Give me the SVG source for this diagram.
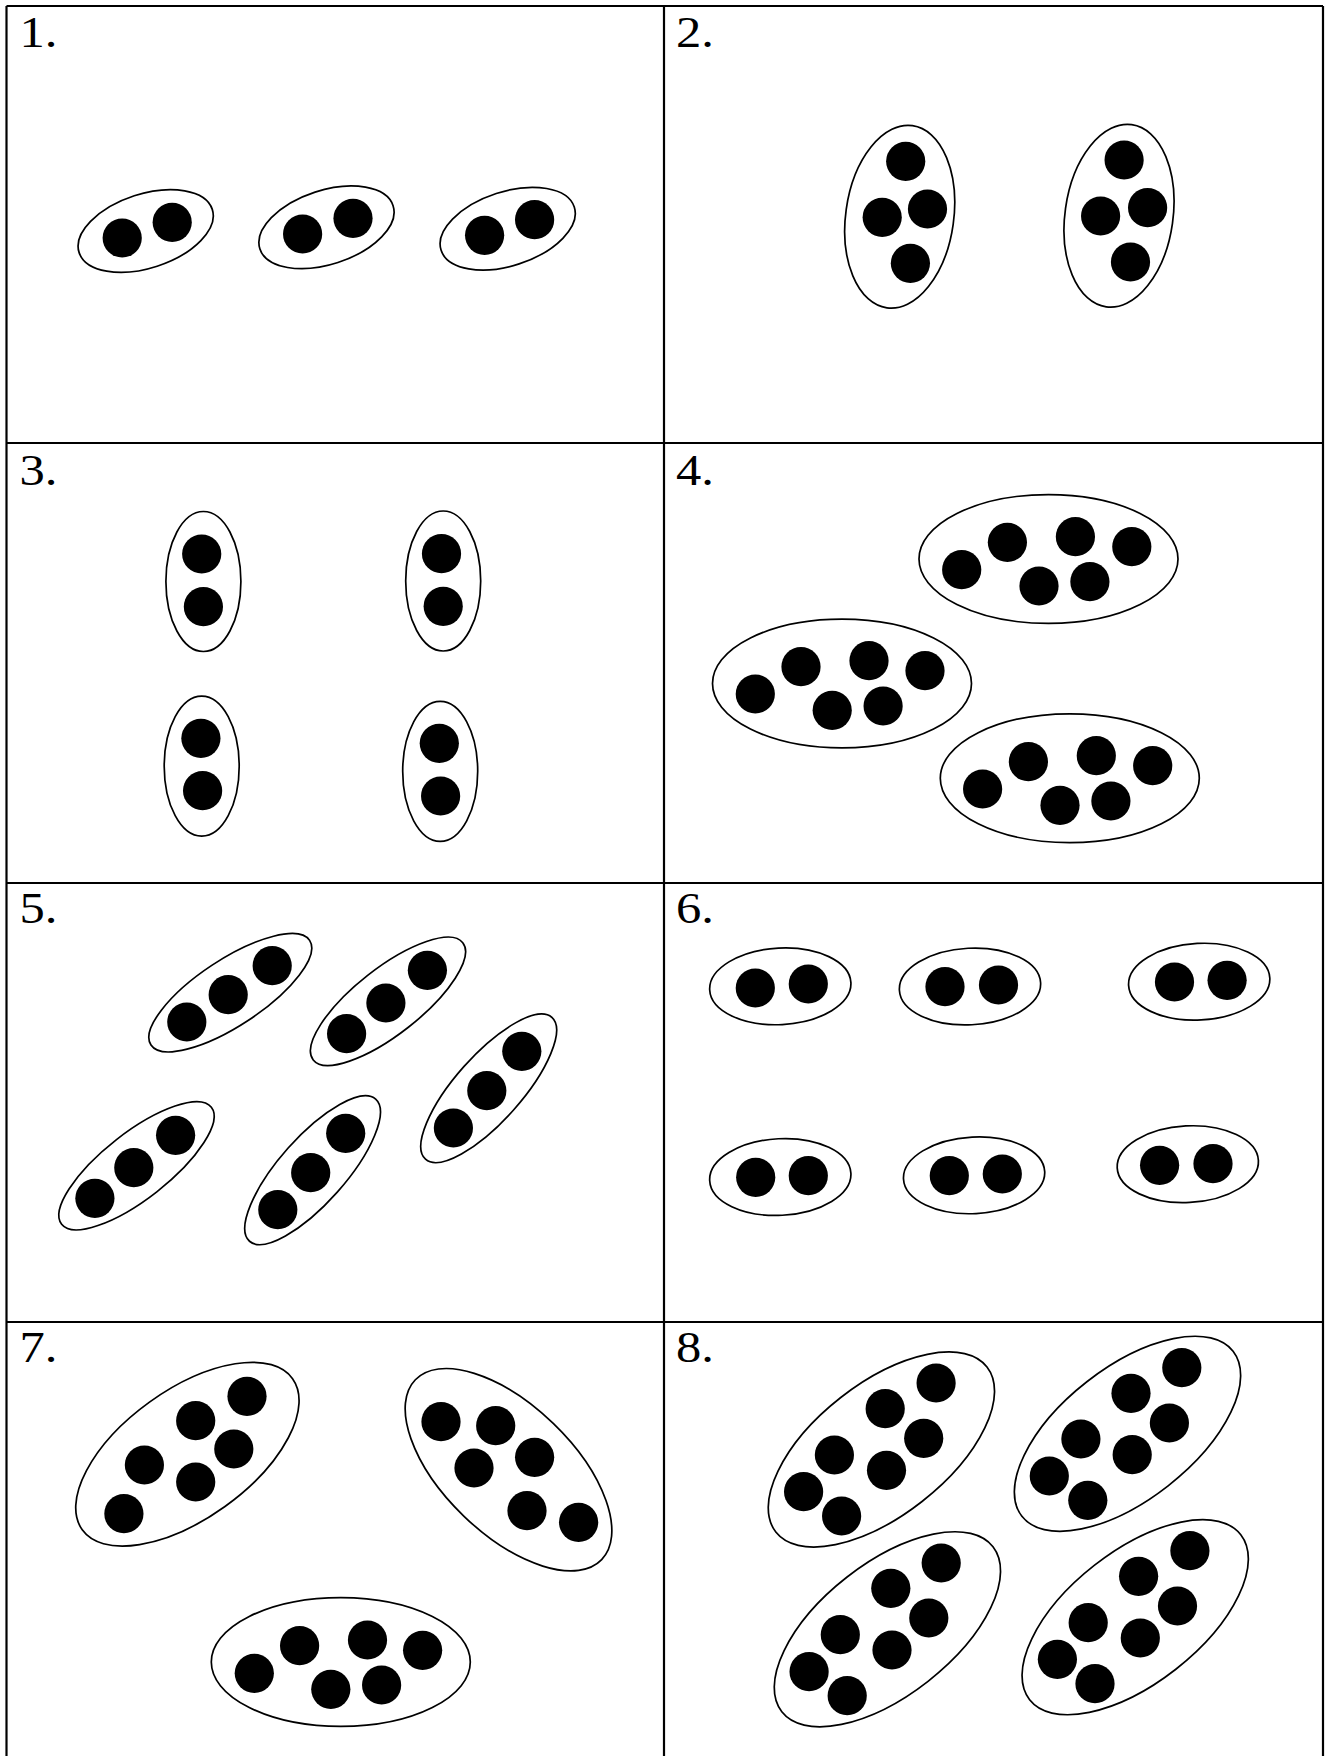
<svg xmlns="http://www.w3.org/2000/svg" width="1325" height="1756" viewBox="0 0 1325 1756">
<style>
.ring{fill:#fff;stroke:#000;stroke-width:1.7}
.dot{fill:#000}
.grid{stroke:#000;stroke-width:2.2;fill:none}
.lbl{font-family:"Liberation Serif","Times New Roman",serif;font-size:44px;fill:#000}
</style>
<defs>
<ellipse id="e1" class="ring" rx="70" ry="37"/>
<ellipse id="e2" class="ring" rx="54" ry="92"/>
<ellipse id="e3" class="ring" rx="37.5" ry="70"/>
<ellipse id="e4" class="ring" rx="129.5" ry="64.4"/>
<ellipse id="e5" class="ring" rx="95" ry="33"/>
<ellipse id="e6" class="ring" rx="70.7" ry="38.3"/>
<ellipse id="e8" class="ring" rx="134" ry="66"/>
</defs>
<rect width="1325" height="1756" fill="#fff"/>
<g id="grid" class="grid">
<line x1="6.5" y1="6" x2="6.5" y2="1756"/>
<line x1="664" y1="6" x2="664" y2="1756"/>
<line x1="1323" y1="6" x2="1323" y2="1756"/>
<line x1="6.5" y1="6" x2="1323" y2="6"/>
<line x1="6.5" y1="443" x2="1323" y2="443"/>
<line x1="6.5" y1="883" x2="1323" y2="883"/>
<line x1="6.5" y1="1322" x2="1323" y2="1322"/>
</g>
<g id="labels" class="lbl">
<text transform="translate(19.4,46.5) scale(1.15,1)">1.</text>
<text transform="translate(676,46.5) scale(1.15,1)">2.</text>
<text transform="translate(19.4,484.5) scale(1.15,1)">3.</text>
<text transform="translate(676,484.5) scale(1.15,1)">4.</text>
<text transform="translate(19.4,923) scale(1.15,1)">5.</text>
<text transform="translate(676,923) scale(1.15,1)">6.</text>
<text transform="translate(19.4,1362) scale(1.15,1)">7.</text>
<text transform="translate(676,1362) scale(1.15,1)">8.</text>
</g>
<g id="cell1">
<g id="c1g1"><use href="#e1" transform="translate(145.7,231) rotate(-18)"/><circle class="dot" cx="122.2" cy="238" r="19.6"/><circle class="dot" cx="172.2" cy="222.3" r="19.6"/></g>
<g id="c1g2"><use href="#e1" transform="translate(326.5,227.3) rotate(-18)"/><circle class="dot" cx="302.6" cy="234" r="19.6"/><circle class="dot" cx="353" cy="218.3" r="19.6"/></g>
<g id="c1g3"><use href="#e1" transform="translate(507.7,228.7) rotate(-18)"/><circle class="dot" cx="484.6" cy="235.3" r="19.6"/><circle class="dot" cx="534.6" cy="219.7" r="19.6"/></g>
</g>
<g id="cell2">
<g id="c2g1"><use href="#e2" transform="translate(899.7,216.8) rotate(8)"/><circle class="dot" cx="905.7" cy="161.3" r="19.6"/><circle class="dot" cx="882.2" cy="217.3" r="19.6"/><circle class="dot" cx="927.5" cy="209" r="19.6"/><circle class="dot" cx="910.4" cy="263.3" r="19.6"/></g>
<g id="c2g2"><use href="#e2" transform="translate(1119,215.8) rotate(8)"/><circle class="dot" cx="1124.1" cy="160" r="19.6"/><circle class="dot" cx="1100.6" cy="216" r="19.6"/><circle class="dot" cx="1147.6" cy="207.7" r="19.6"/><circle class="dot" cx="1130.5" cy="262" r="19.6"/></g>
</g>
<g id="cell3">
<g id="c3g1"><use href="#e3" transform="translate(203.4,581.5)"/><circle class="dot" cx="201.7" cy="554" r="19.6"/><circle class="dot" cx="203.4" cy="606.7" r="19.6"/></g>
<g id="c3g2"><use href="#e3" transform="translate(443.2,581)"/><circle class="dot" cx="441.5" cy="553.7" r="19.6"/><circle class="dot" cx="443.2" cy="606.3" r="19.6"/></g>
<g id="c3g3"><use href="#e3" transform="translate(201.7,766.2)"/><circle class="dot" cx="200.9" cy="738.3" r="19.6"/><circle class="dot" cx="202.6" cy="790.7" r="19.6"/></g>
<g id="c3g4"><use href="#e3" transform="translate(440.2,771.3)"/><circle class="dot" cx="439.3" cy="743.3" r="19.6"/><circle class="dot" cx="440.6" cy="796" r="19.6"/></g>
</g>
<g id="cell4">
<g id="c4g1"><use href="#e4" transform="translate(1048.5,559)"/><circle class="dot" cx="961.7" cy="569.7" r="19.6"/><circle class="dot" cx="1007.4" cy="542.3" r="19.6"/><circle class="dot" cx="1075.4" cy="536.7" r="19.6"/><circle class="dot" cx="1131.8" cy="546.7" r="19.6"/><circle class="dot" cx="1039" cy="586" r="19.6"/><circle class="dot" cx="1089.9" cy="581.7" r="19.6"/></g>
<g id="c4g2"><use href="#e4" transform="translate(842,683.5)"/><circle class="dot" cx="755.3" cy="694" r="19.6"/><circle class="dot" cx="801" cy="666.7" r="19.6"/><circle class="dot" cx="869" cy="660.7" r="19.6"/><circle class="dot" cx="925" cy="670.7" r="19.6"/><circle class="dot" cx="832.2" cy="710.3" r="19.6"/><circle class="dot" cx="883.1" cy="706" r="19.6"/></g>
<g id="c4g3"><use href="#e4" transform="translate(1069.8,778.2)"/><circle class="dot" cx="982.6" cy="789" r="19.6"/><circle class="dot" cx="1028.4" cy="761.7" r="19.6"/><circle class="dot" cx="1096.3" cy="755.7" r="19.6"/><circle class="dot" cx="1152.7" cy="765.7" r="19.6"/><circle class="dot" cx="1060" cy="805.3" r="19.6"/><circle class="dot" cx="1110.9" cy="801" r="19.6"/></g>
</g>
<g id="cell5">
<g id="c5g1"><use href="#e5" transform="translate(230.3,992.7) rotate(-33.4)"/><circle class="dot" cx="186.8" cy="1022" r="19.6"/><circle class="dot" cx="228.2" cy="994.7" r="19.6"/><circle class="dot" cx="272.2" cy="965.7" r="19.6"/></g>
<g id="c5g2"><use href="#e5" transform="translate(388,1001.3) rotate(-38.1)"/><circle class="dot" cx="346.6" cy="1033.7" r="19.6"/><circle class="dot" cx="385.9" cy="1003" r="19.6"/><circle class="dot" cx="427.4" cy="970.3" r="19.6"/></g>
<g id="c5g3"><use href="#e5" transform="translate(488.7,1088.3) rotate(-48.3)"/><circle class="dot" cx="453.4" cy="1128" r="19.6"/><circle class="dot" cx="486.8" cy="1090.7" r="19.6"/><circle class="dot" cx="521.8" cy="1051.3" r="19.6"/></g>
<g id="c5g4"><use href="#e5" transform="translate(136.5,1165.8) rotate(-38)"/><circle class="dot" cx="94.9" cy="1198.3" r="19.6"/><circle class="dot" cx="133.8" cy="1167.7" r="19.6"/><circle class="dot" cx="175.6" cy="1135.3" r="19.6"/></g>
<g id="c5g5"><use href="#e5" transform="translate(312.6,1170.2) rotate(-48.4)"/><circle class="dot" cx="277.8" cy="1209.7" r="19.6"/><circle class="dot" cx="310.7" cy="1172.7" r="19.6"/><circle class="dot" cx="345.7" cy="1133.3" r="19.6"/></g>
</g>
<g id="cell6">
<g id="c6g1"><use href="#e6" transform="translate(780.3,986.3) rotate(-3)"/><circle class="dot" cx="755.3" cy="988" r="19.6"/><circle class="dot" cx="808.3" cy="984" r="19.6"/></g>
<g id="c6g2"><use href="#e6" transform="translate(970,986.5) rotate(-3)"/><circle class="dot" cx="945" cy="986.7" r="19.6"/><circle class="dot" cx="998.5" cy="985" r="19.6"/></g>
<g id="c6g3"><use href="#e6" transform="translate(1199.2,981.7) rotate(-3)"/><circle class="dot" cx="1174.5" cy="982" r="19.6"/><circle class="dot" cx="1227.1" cy="980.3" r="19.6"/></g>
<g id="c6g4"><use href="#e6" transform="translate(780.3,1177) rotate(-3)"/><circle class="dot" cx="755.7" cy="1177.3" r="19.6"/><circle class="dot" cx="808.3" cy="1175.7" r="19.6"/></g>
<g id="c6g5"><use href="#e6" transform="translate(974.1,1175.3) rotate(-3)"/><circle class="dot" cx="949.3" cy="1175.7" r="19.6"/><circle class="dot" cx="1002.3" cy="1174" r="19.6"/></g>
<g id="c6g6"><use href="#e6" transform="translate(1187.8,1164.2) rotate(-3)"/><circle class="dot" cx="1159.6" cy="1165.3" r="19.6"/><circle class="dot" cx="1213" cy="1163.7" r="19.6"/></g>
</g>
<g id="cell7">
<g id="c7g1"><use href="#e4" transform="translate(187.4,1454.2) rotate(-35.7)"/><circle class="dot" cx="123.9" cy="1513.7" r="19.6"/><circle class="dot" cx="144.4" cy="1465" r="19.6"/><circle class="dot" cx="195.7" cy="1420.7" r="19.6"/><circle class="dot" cx="247" cy="1396.3" r="19.6"/><circle class="dot" cx="233.8" cy="1449" r="19.6"/><circle class="dot" cx="195.7" cy="1482" r="19.6"/></g>
<g id="c7g2"><use href="#e4" transform="translate(508.5,1469.7) rotate(44)"/><circle class="dot" cx="441" cy="1421.7" r="19.6"/><circle class="dot" cx="495.7" cy="1425.7" r="19.6"/><circle class="dot" cx="474" cy="1468" r="19.6"/><circle class="dot" cx="534.6" cy="1457.3" r="19.6"/><circle class="dot" cx="527" cy="1510.7" r="19.6"/><circle class="dot" cx="578.6" cy="1522.3" r="19.6"/></g>
<g id="c7g3"><use href="#e4" transform="translate(340.8,1662)"/><circle class="dot" cx="254.3" cy="1673.3" r="19.6"/><circle class="dot" cx="299.6" cy="1645.7" r="19.6"/><circle class="dot" cx="367.5" cy="1640" r="19.6"/><circle class="dot" cx="422.6" cy="1650.3" r="19.6"/><circle class="dot" cx="330.8" cy="1689.3" r="19.6"/><circle class="dot" cx="381.6" cy="1685" r="19.6"/></g>
</g>
<g id="cell8">
<g id="c8g1"><use href="#e8" transform="translate(881.4,1449.5) rotate(-38)"/><circle class="dot" cx="936.1" cy="1383" r="19.6"/><circle class="dot" cx="885.2" cy="1408.7" r="19.6"/><circle class="dot" cx="923.7" cy="1438.3" r="19.6"/><circle class="dot" cx="834.4" cy="1455" r="19.6"/><circle class="dot" cx="886.5" cy="1470.3" r="19.6"/><circle class="dot" cx="803.6" cy="1491.7" r="19.6"/><circle class="dot" cx="841.6" cy="1516" r="19.6"/></g>
<g id="c8g2"><use href="#e8" transform="translate(1127.5,1433.8) rotate(-38)"/><circle class="dot" cx="1181.8" cy="1367.7" r="19.6"/><circle class="dot" cx="1131" cy="1393.3" r="19.6"/><circle class="dot" cx="1169.4" cy="1423" r="19.6"/><circle class="dot" cx="1080.9" cy="1439" r="19.6"/><circle class="dot" cx="1132.2" cy="1454.7" r="19.6"/><circle class="dot" cx="1049.3" cy="1476" r="19.6"/><circle class="dot" cx="1087.8" cy="1500.3" r="19.6"/></g>
<g id="c8g3"><use href="#e8" transform="translate(887.4,1629.3) rotate(-38)"/><circle class="dot" cx="941.2" cy="1563" r="19.6"/><circle class="dot" cx="890.8" cy="1588.3" r="19.6"/><circle class="dot" cx="928.8" cy="1618" r="19.6"/><circle class="dot" cx="840.3" cy="1634.7" r="19.6"/><circle class="dot" cx="892" cy="1650" r="19.6"/><circle class="dot" cx="809.1" cy="1671.7" r="19.6"/><circle class="dot" cx="847.2" cy="1695.7" r="19.6"/></g>
<g id="c8g4"><use href="#e8" transform="translate(1135.2,1617.2) rotate(-38)"/><circle class="dot" cx="1189.9" cy="1550.7" r="19.6"/><circle class="dot" cx="1138.6" cy="1576.3" r="19.6"/><circle class="dot" cx="1177.5" cy="1606" r="19.6"/><circle class="dot" cx="1088.2" cy="1622.7" r="19.6"/><circle class="dot" cx="1140.3" cy="1638" r="19.6"/><circle class="dot" cx="1057.4" cy="1659.3" r="19.6"/><circle class="dot" cx="1095" cy="1683.7" r="19.6"/></g>
</g>
</svg>
